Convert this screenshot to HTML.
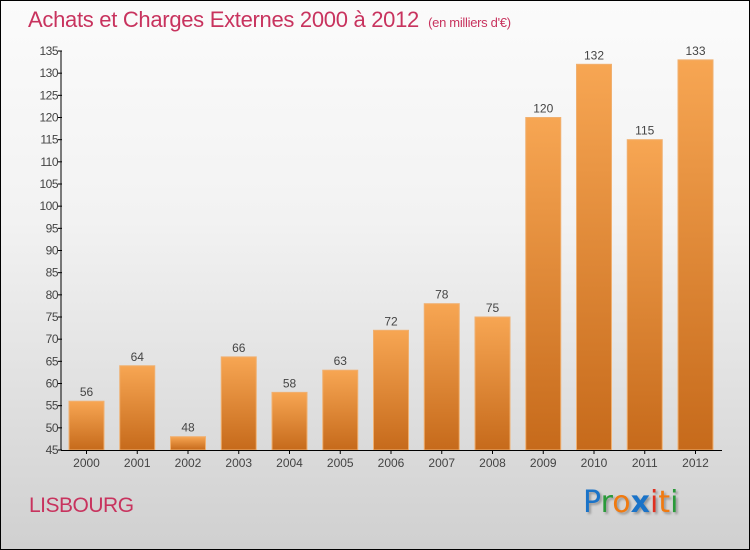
<!DOCTYPE html>
<html><head><meta charset="utf-8"><style>
body{margin:0}
#c{position:relative;width:748px;height:548px;border:1px solid #000;background:linear-gradient(#fbfbfb,#f2f2f2 40%,#d0d0d0);overflow:hidden;font-family:"Liberation Sans",sans-serif}
</style></head><body>
<div id="c">
<div style="position:absolute;left:27px;top:6px;font-size:22px;color:#c8335e;letter-spacing:-0.3px">Achats et Charges Externes 2000 à 2012 <span style="font-size:13px">&nbsp;(en milliers d'€)</span></div>
<svg width="748" height="548" style="position:absolute;left:0;top:0" id="s">
<defs><linearGradient id="g" x1="0" y1="0" x2="0" y2="1"><stop offset="0" stop-color="#f7a653"/><stop offset="1" stop-color="#c66a1b"/></linearGradient></defs>
</svg>
<div style="position:absolute;left:28px;top:493px;font-size:21px;color:#c8335e;letter-spacing:-0.5px">LISBOURG</div>
<div style="position:absolute;left:582px;top:484px;font-size:30px;font-family:'DejaVu Sans',sans-serif;text-shadow:2px 2px 2px #999"><span style="color:#1a73c8">P</span><span style="color:#2a9a3a">r</span><span style="color:#f07a10">o</span><span style="color:#1a73c8;font-weight:bold">x</span><span style="color:#e03020">i</span><span style="color:#f07a10">t</span><span style="color:#2a9a3a">i</span></div>
</div>
<script>
const years=["2000","2001","2002","2003","2004","2005","2006","2007","2008","2009","2010","2011","2012"];
const values=[56,64,48,66,58,63,72,78,75,120,132,115,133];
const yTicks=[45,50,55,60,65,70,75,80,85,90,95,100,105,110,115,120,125,130,135];
const s=document.getElementById('s');const NS='http://www.w3.org/2000/svg';
const y0=449,y1=50,vmin=45,vmax=135;
const Y=v=>y0-(v-vmin)*(y0-y1)/(vmax-vmin);
const X=i=>85.5+i*50.75;
function mk(t,a,p){const e=document.createElementNS(NS,t);for(const k in a)e.setAttribute(k,a[k]);(p||s).appendChild(e);return e;}
values.forEach((v,i)=>{
const r=mk('rect',{x:X(i)-17.5,y:Y(v),width:35,height:y0-Y(v),fill:'url(#g)',stroke:'#f0b070','stroke-width':1});


const t=mk('text',{x:X(i),y:Y(v)-5,'text-anchor':'middle','font-size':12,fill:'#444','font-family':'Liberation Sans,sans-serif'});t.textContent=v;


const xl=mk('text',{x:X(i),y:466,'text-anchor':'middle','font-size':12,fill:'#444','font-family':'Liberation Sans,sans-serif'});xl.textContent=years[i];


mk('line',{x1:X(i),x2:X(i),y1:y0,y2:y0+4,stroke:'#000'});
});
yTicks.forEach(v=>{
mk('line',{x1:57,x2:61,y1:Y(v),y2:Y(v),stroke:'#000'});
const t=mk('text',{x:57,y:Y(v)+4,'text-anchor':'end','font-size':12,fill:'#444','font-family':'Liberation Sans,sans-serif','letter-spacing':'-0.5'});t.textContent=v;


});
const ya=mk('line',{x1:60,x2:60,y1:y1,y2:y0,stroke:'#000'});


const xa=mk('line',{x1:60,x2:721,y1:y0+0.5,y2:y0+0.5,stroke:'#000'});


</script>
</body></html>
